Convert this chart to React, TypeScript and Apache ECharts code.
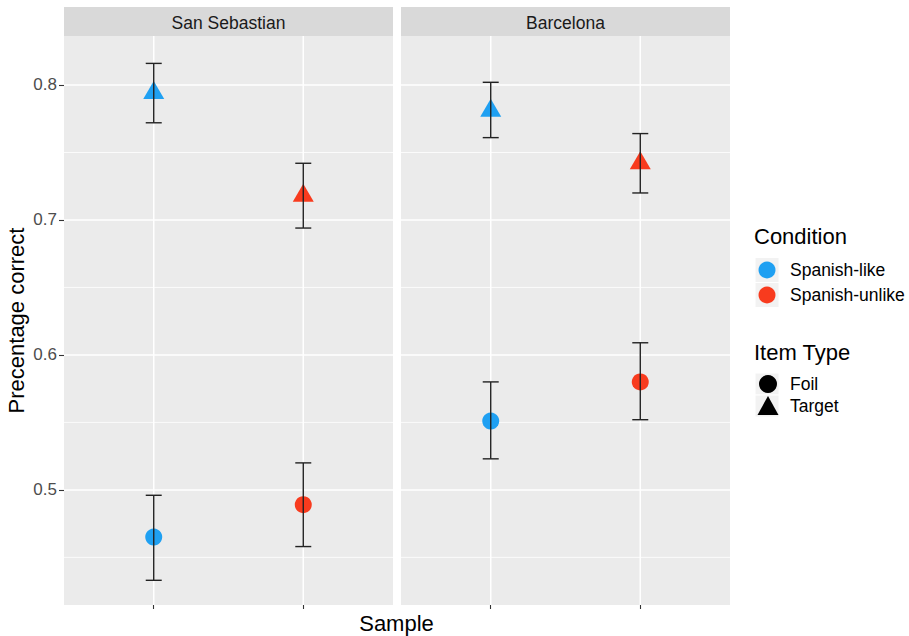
import React, { useEffect, useRef } from "react";
import * as echarts from "echarts";

// ---------- data ----------
const samples = ["San Sebastian", "Barcelona"];
const conditions = ["Spanish-like", "Spanish-unlike"];
const itemTypes = ["Foil", "Target"];
const conditionColors = ["#1FA0F2", "#F83B1E"];

// values per condition (Spanish-like, Spanish-unlike)
const ssTargetMean = [0.794, 0.718];
const ssTargetLow = [0.772, 0.694];
const ssTargetHigh = [0.816, 0.742];
const ssFoilMean = [0.465, 0.489];
const ssFoilLow = [0.433, 0.458];
const ssFoilHigh = [0.496, 0.52];

const bcnTargetMean = [0.781, 0.742];
const bcnTargetLow = [0.761, 0.72];
const bcnTargetHigh = [0.802, 0.764];
const bcnFoilMean = [0.551, 0.58];
const bcnFoilLow = [0.523, 0.552];
const bcnFoilHigh = [0.58, 0.609];

const yTicks = [0.5, 0.6, 0.7, 0.8];
const yMinor = [0.45, 0.55, 0.65, 0.75];
const xPositions = [1, 2];

const panelData = [
  {
    foil: [ssFoilMean, ssFoilLow, ssFoilHigh],
    target: [ssTargetMean, ssTargetLow, ssTargetHigh],
  },
  {
    foil: [bcnFoilMean, bcnFoilLow, bcnFoilHigh],
    target: [bcnTargetMean, bcnTargetLow, bcnTargetHigh],
  },
];

const FONT = "Liberation Sans, Arial, sans-serif";

export default function App() {
  const ref = useRef<HTMLDivElement>(null);

  useEffect(() => {
    if (!ref.current) return;
    const chart = echarts.init(ref.current, null, { renderer: "svg" });

    const Y_MIN = 0.4147;
    const Y_MAX = 0.8363;
    const panels = [
      { left: 64, width: 329 },
      { left: 401, width: 329 },
    ];
    const top = 36;
    const height = 569;

    const grids = panels.map((p) => ({
      left: p.left,
      top,
      width: p.width,
      height,
      show: true,
      backgroundColor: "#EBEBEB",
      borderWidth: 0,
    }));

    const xAxes = panels.map((_, i) => ({
      type: "value",
      gridIndex: i,
      min: 0.4,
      max: 2.6,
      axisLine: { show: false },
      axisLabel: { show: false },
      splitLine: { show: false },
      axisTick: {
        show: true,
        customValues: xPositions,
        length: 4,
        lineStyle: { color: "#333333", width: 1.1 },
      },
    }));

    const yAxes = panels.map((_, i) => ({
      type: "value",
      gridIndex: i,
      min: Y_MIN,
      max: Y_MAX,
      axisLine: { show: false },
      splitLine: { show: false },
      axisTick:
        i === 0
          ? {
              show: true,
              customValues: yTicks,
              length: 5,
              lineStyle: { color: "#333333", width: 1.1 },
            }
          : { show: false },
      axisLabel:
        i === 0
          ? {
              show: true,
              customValues: yTicks,
              fontSize: 17,
              color: "#4D4D4D",
              fontFamily: FONT,
              margin: 7,
              formatter: (v: number) => v.toFixed(1),
            }
          : { show: false },
    }));

    const series: any[] = [];

    panels.forEach((_, i) => {
      // grid lines
      const gridData: number[][] = [];
      yTicks.forEach((v) => gridData.push([1, v, 0]));
      yMinor.forEach((v) => gridData.push([1, v, 1]));
      xPositions.forEach((v) => gridData.push([v, 0.6, 2]));
      series.push({
        type: "custom",
        xAxisIndex: i,
        yAxisIndex: i,
        z: 1,
        silent: true,
        data: gridData,
        renderItem: (params: any, api: any) => {
          const cs = params.coordSys;
          const kind = api.value(2);
          if (kind === 2) {
            const x = api.coord([api.value(0), 0.6])[0];
            return {
              type: "line",
              shape: { x1: x, y1: cs.y, x2: x, y2: cs.y + cs.height },
              style: { stroke: "#FFFFFF", lineWidth: 1.5 },
            };
          }
          const y = api.coord([1, api.value(1)])[1];
          return {
            type: "line",
            shape: { x1: cs.x, y1: y, x2: cs.x + cs.width, y2: y },
            style: { stroke: "#FFFFFF", lineWidth: kind === 0 ? 1.5 : 0.8 },
          };
        },
      });

      const pd = panelData[i];
      // points
      (["foil", "target"] as const).forEach((kind) => {
        const [mean] = pd[kind];
        series.push({
          type: "scatter",
          name: kind === "foil" ? itemTypes[0] : itemTypes[1],
          xAxisIndex: i,
          yAxisIndex: i,
          z: 2,
          symbol: kind === "foil" ? "circle" : "triangle",
          symbolSize: kind === "foil" ? 17 : [21, 18],
          symbolOffset: kind === "foil" ? [0, 0] : [0, -3],
          data: conditions.map((c, ci) => ({
            name: c,
            value: [xPositions[ci], mean[ci]],
            itemStyle: { color: conditionColors[ci], opacity: 1 },
          })),
        });
      });

      // error bars
      const ebData: number[][] = [];
      (["foil", "target"] as const).forEach((kind) => {
        const [mean, low, high] = pd[kind];
        conditions.forEach((_, ci) => {
          ebData.push([xPositions[ci], mean[ci], low[ci], high[ci]]);
        });
      });
      series.push({
        type: "custom",
        xAxisIndex: i,
        yAxisIndex: i,
        z: 3,
        silent: true,
        data: ebData,
        encode: { x: 0, y: [1, 2, 3] },
        renderItem: (_params: any, api: any) => {
          const x = api.value(0);
          const lo = api.coord([x, api.value(2)]);
          const hi = api.coord([x, api.value(3)]);
          const half = 8;
          const st = { stroke: "#222222", lineWidth: 1.4 };
          return {
            type: "group",
            children: [
              { type: "line", shape: { x1: lo[0], y1: lo[1], x2: hi[0], y2: hi[1] }, style: st },
              { type: "line", shape: { x1: lo[0] - half, y1: lo[1], x2: lo[0] + half, y2: lo[1] }, style: st },
              { type: "line", shape: { x1: hi[0] - half, y1: hi[1], x2: hi[0] + half, y2: hi[1] }, style: st },
            ],
          };
        },
      });
    });

    const graphics: any[] = [];
    // strips
    panels.forEach((p, i) => {
      graphics.push({
        type: "rect",
        shape: { x: p.left, y: 7, width: p.width, height: 29 },
        style: { fill: "#D9D9D9" },
        silent: true,
      });
      graphics.push({
        type: "text",
        x: p.left + p.width / 2,
        y: 22.5,
        style: {
          text: samples[i],
          fontSize: 17.5,
          fontFamily: FONT,
          fill: "#1A1A1A",
          align: "center",
          verticalAlign: "middle",
        },
        silent: true,
      });
    });
    // axis titles
    graphics.push({
      type: "text",
      x: 396.5,
      y: 623,
      style: {
        text: "Sample",
        fontSize: 22,
        fontFamily: FONT,
        fill: "#000000",
        align: "center",
        verticalAlign: "middle",
      },
    });
    graphics.push({
      type: "text",
      x: 16,
      y: 320.5,
      rotation: Math.PI / 2,
      style: {
        text: "Precentage correct",
        fontSize: 22,
        fontFamily: FONT,
        fill: "#000000",
        align: "center",
        verticalAlign: "middle",
      },
    });

    // legend: Condition
    const legX = 754;
    const keyCx = 767;
    const labelX = 790;
    graphics.push({
      type: "text",
      x: legX,
      y: 236,
      style: { text: "Condition", fontSize: 22, fontFamily: FONT, fill: "#000000", align: "left", verticalAlign: "middle" },
    });
    const condCy = [270, 295];
    conditions.forEach((c, ci) => {
      graphics.push({
        type: "rect",
        shape: { x: 755, y: condCy[ci] - 12.5, width: 24, height: 25 },
        style: { fill: "#F2F2F2", stroke: "#FFFFFF", lineWidth: 1 },
      });
      graphics.push({
        type: "circle",
        shape: { cx: keyCx, cy: condCy[ci], r: 8.5 },
        style: { fill: conditionColors[ci] },
      });
      graphics.push({
        type: "text",
        x: labelX,
        y: condCy[ci],
        style: { text: c, fontSize: 17.5, fontFamily: FONT, fill: "#000000", align: "left", verticalAlign: "middle" },
      });
    });

    // legend: Item Type
    graphics.push({
      type: "text",
      x: legX,
      y: 352,
      style: { text: "Item Type", fontSize: 22, fontFamily: FONT, fill: "#000000", align: "left", verticalAlign: "middle" },
    });
    const itemCy = [384, 406];
    itemTypes.forEach((t, ti) => {
      graphics.push({
        type: "rect",
        shape: { x: 755, y: itemCy[ti] - 11, width: 24, height: 22 },
        style: { fill: "#F2F2F2", stroke: "#FFFFFF", lineWidth: 1 },
      });
      if (ti === 0) {
        graphics.push({
          type: "circle",
          shape: { cx: keyCx + 1, cy: itemCy[ti], r: 9 },
          style: { fill: "#000000" },
        });
      } else {
        const cy = itemCy[ti];
        graphics.push({
          type: "polygon",
          shape: {
            points: [
              [keyCx + 1, cy - 10],
              [keyCx + 1 - 10.5, cy + 9],
              [keyCx + 1 + 10.5, cy + 9],
            ],
          },
          style: { fill: "#000000" },
        });
      }
      graphics.push({
        type: "text",
        x: labelX,
        y: itemCy[ti],
        style: { text: t, fontSize: 17.5, fontFamily: FONT, fill: "#000000", align: "left", verticalAlign: "middle" },
      });
    });

    chart.setOption({
      animation: false,
      backgroundColor: "#FFFFFF",
      grid: grids,
      xAxis: xAxes,
      yAxis: yAxes,
      series,
      graphic: graphics,
    });

    return () => chart.dispose();
  }, []);

  return <div ref={ref} style={{ width: 909, height: 636, position: "absolute", left: 0, top: 0 }} />;
}
